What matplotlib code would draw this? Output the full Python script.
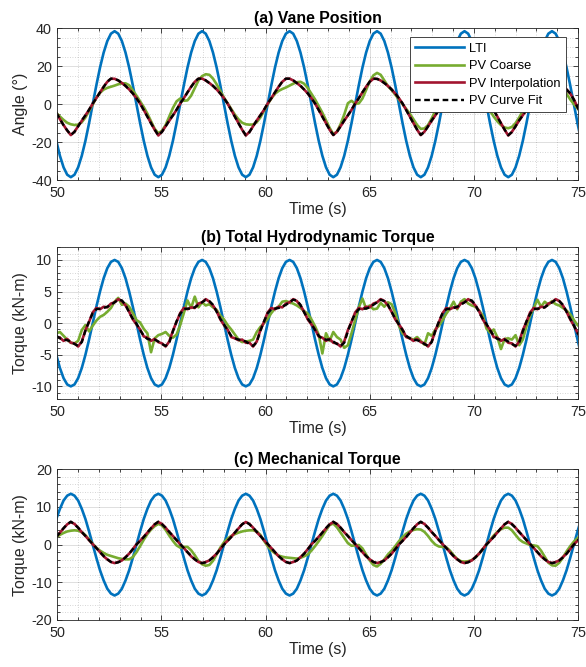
import numpy as np
import matplotlib.pyplot as plt
from matplotlib.ticker import MultipleLocator

plt.rcParams['font.family'] = ['Liberation Sans', 'DejaVu Sans']
plt.rcParams['axes.unicode_minus'] = False

# sample times (s), 0.175 s spacing
t = np.linspace(49.95, 75.15, 145)

# ---- (a) vane position, deg ----
lti_angle = [
    -19.3, -27.2, -33.3, -37.2, -38.5, -37.2, -33.3, -27.2, -19.3, -10.0, 0.0, 10.0, 19.3, 27.2, 33.3, 37.2, 38.5, 37.2, 33.3, 27.2, 19.3, 10.0, 0.0, -10.0,
    -19.3, -27.2, -33.3, -37.2, -38.5, -37.2, -33.3, -27.2, -19.3, -10.0, 0.0, 10.0, 19.3, 27.2, 33.3, 37.2, 38.5, 37.2, 33.3, 27.2, 19.3, 10.0, 0.0, -10.0,
    -19.3, -27.2, -33.3, -37.2, -38.5, -37.2, -33.3, -27.2, -19.3, -10.0, 0.0, 10.0, 19.3, 27.2, 33.3, 37.2, 38.5, 37.2, 33.3, 27.2, 19.3, 10.0, 0.0, -10.0,
    -19.3, -27.2, -33.3, -37.2, -38.5, -37.2, -33.3, -27.2, -19.3, -10.0, 0.0, 10.0, 19.3, 27.2, 33.3, 37.2, 38.5, 37.2, 33.3, 27.2, 19.3, 10.0, 0.0, -10.0,
    -19.3, -27.2, -33.3, -37.2, -38.5, -37.2, -33.3, -27.2, -19.3, -10.0, 0.0, 10.0, 19.3, 27.2, 33.3, 37.2, 38.5, 37.2, 33.3, 27.2, 19.3, 10.0, 0.0, -10.0,
    -19.3, -27.2, -33.3, -37.2, -38.5, -37.2, -33.3, -27.2, -19.3, -10.0, 0.0, 10.0, 19.3, 27.2, 33.3, 37.2, 38.5, 37.2, 33.3, 27.2, 19.3, 10.0, 0.0, -10.0,
    -19.3]
coarse_angle = [
    -4.6, -6.5, -8.3, -9.8, -10.6, -11.0, -10.8, -9.5, -7.0, -3.6, -0.2, 3.4, 6.0, 7.7, 8.6, 9.2, 9.8, 10.5, 11.0, 11.0, 10.0, 7.3, 4.5, 1.5,
    -1.5, -5.0, -9.0, -13.0, -15.3, -14.0, -11.0, -6.5, -2.0, 1.5, 3.0, 1.8, 2.0, 4.5, 8.5, 12.5, 14.8, 15.8, 15.5, 13.5, 10.5, 7.0, 3.5, 0.5,
    -2.5, -5.5, -8.0, -9.8, -10.6, -10.8, -10.7, -9.5, -7.0, -3.5, 0.0, 3.0, 5.5, 7.0, 8.0, 8.8, 9.8, 10.8, 11.6, 11.8, 10.8, 8.5, 5.5, 2.5,
    -1.0, -4.5, -8.5, -12.5, -15.8, -14.5, -10.5, -5.5, 0.5, 1.8, 0.2, 0.4, 3.0, 7.5, 12.0, 15.2, 16.5, 15.5, 12.5, 9.5, 7.5, 5.0, 2.5, 0.0,
    -2.5, -5.0, -8.0, -11.0, -13.0, -12.8, -11.0, -7.5, -3.5, 0.0, 3.0, 5.5, 7.5, 9.0, 10.0, 10.8, 11.0, 11.0, 10.0, 8.0, 5.5, 2.5, -0.5, -3.5,
    -6.5, -9.0, -11.0, -12.3, -12.7, -12.0, -10.0, -7.0, -3.5, -0.5, 1.5, 2.0, 3.0, 6.0, 9.5, 12.0, 13.5, 13.8, 11.5, 8.5, 5.5, 2.5, 0.0, -2.2,
    -4.5]
interp_angle = [
    -4.6, -7.9, -11.0, -13.9, -16.3, -14.5, -11.6, -8.6, -5.8, -3.0, 0.3, 3.2, 6.2, 9.2, 11.8, 13.4, 13.4, 12.5, 11.2, 9.6, 7.8, 5.6, 3.2, 0.3,
    -3.0, -6.5, -10.0, -13.5, -16.5, -14.5, -11.6, -8.6, -5.8, -3.0, 0.3, 3.2, 6.2, 9.2, 11.8, 13.4, 13.5, 12.5, 11.2, 9.6, 7.8, 5.6, 3.2, 0.3,
    -3.0, -6.5, -10.0, -13.5, -16.5, -14.6, -11.6, -8.6, -5.8, -3.0, 0.3, 3.2, 6.2, 9.2, 11.8, 13.4, 13.5, 12.5, 11.2, 9.6, 7.8, 5.6, 3.2, 0.3,
    -3.0, -6.5, -10.0, -13.5, -16.3, -14.5, -11.6, -8.6, -5.8, -3.0, 0.3, 3.2, 6.2, 9.2, 11.8, 13.4, 13.4, 12.5, 11.2, 9.6, 7.8, 5.6, 3.2, 0.3,
    -3.0, -6.5, -10.0, -13.5, -16.3, -14.5, -11.6, -8.6, -5.8, -3.0, 0.3, 3.2, 6.2, 9.2, 11.8, 13.4, 13.4, 12.5, 11.2, 9.6, 7.8, 5.6, 3.2, 0.3,
    -3.0, -6.5, -10.0, -13.5, -16.5, -14.6, -11.6, -8.6, -5.8, -3.0, 0.3, 3.2, 6.2, 9.2, 11.8, 13.4, 13.4, 12.5, 11.2, 9.6, 7.8, 5.6, 2.5, -1.5,
    -4.8]
fit_angle = [
    -4.5, -7.8, -11.1, -13.8, -16.2, -14.6, -11.7, -8.5, -5.9, -2.9, 0.4, 3.1, 6.3, 9.1, 11.9, 13.5, 13.3, 12.6, 11.1, 9.7, 7.7, 5.7, 3.1, 0.4,
    -3.1, -6.6, -10.1, -13.4, -16.4, -14.6, -11.7, -8.5, -5.9, -2.9, 0.4, 3.1, 6.3, 9.1, 11.9, 13.5, 13.4, 12.6, 11.1, 9.7, 7.7, 5.7, 3.1, 0.4,
    -3.1, -6.6, -10.1, -13.4, -16.4, -14.7, -11.7, -8.5, -5.9, -2.9, 0.4, 3.1, 6.3, 9.1, 11.9, 13.5, 13.4, 12.6, 11.1, 9.7, 7.7, 5.7, 3.1, 0.4,
    -3.1, -6.6, -10.1, -13.4, -16.2, -14.6, -11.7, -8.5, -5.9, -2.9, 0.4, 3.1, 6.3, 9.1, 11.9, 13.5, 13.3, 12.6, 11.1, 9.7, 7.7, 5.7, 3.1, 0.4,
    -3.1, -6.6, -10.1, -13.4, -16.2, -14.6, -11.7, -8.5, -5.9, -2.9, 0.4, 3.1, 6.3, 9.1, 11.9, 13.5, 13.3, 12.6, 11.1, 9.7, 7.7, 5.7, 3.1, 0.4,
    -3.1, -6.6, -10.1, -13.4, -16.4, -14.7, -11.7, -8.5, -5.9, -2.9, 0.4, 3.1, 6.3, 9.1, 11.9, 13.5, 13.3, 12.6, 11.1, 9.7, 7.7, 5.7, 2.4, -1.6,
    -4.9]

# ---- (b) total hydrodynamic torque, kN-m ----
lti_hydro = [
    -5.0, -7.1, -8.7, -9.7, -10.0, -9.7, -8.7, -7.1, -5.0, -2.6, 0.0, 2.6, 5.0, 7.1, 8.7, 9.7, 10.0, 9.7, 8.7, 7.1, 5.0, 2.6, 0.0, -2.6,
    -5.0, -7.1, -8.7, -9.7, -10.0, -9.7, -8.7, -7.1, -5.0, -2.6, 0.0, 2.6, 5.0, 7.1, 8.7, 9.7, 10.0, 9.7, 8.7, 7.1, 5.0, 2.6, 0.0, -2.6,
    -5.0, -7.1, -8.7, -9.7, -10.0, -9.7, -8.7, -7.1, -5.0, -2.6, 0.0, 2.6, 5.0, 7.1, 8.7, 9.7, 10.0, 9.7, 8.7, 7.1, 5.0, 2.6, 0.0, -2.6,
    -5.0, -7.1, -8.7, -9.7, -10.0, -9.7, -8.7, -7.1, -5.0, -2.6, 0.0, 2.6, 5.0, 7.1, 8.7, 9.7, 10.0, 9.7, 8.7, 7.1, 5.0, 2.6, 0.0, -2.6,
    -5.0, -7.1, -8.7, -9.7, -10.0, -9.7, -8.7, -7.1, -5.0, -2.6, 0.0, 2.6, 5.0, 7.1, 8.7, 9.7, 10.0, 9.7, 8.7, 7.1, 5.0, 2.6, 0.0, -2.6,
    -5.0, -7.1, -8.7, -9.7, -10.0, -9.7, -8.7, -7.1, -5.0, -2.6, 0.0, 2.6, 5.0, 7.1, 8.7, 9.7, 10.0, 9.7, 8.7, 7.1, 5.0, 2.6, 0.0, -2.6,
    -5.0]
coarse_hydro = [
    -1.6, -1.4, -2.0, -2.6, -3.1, -3.2, -2.8, -1.1, -0.3, -1.3, -0.4, 0.4, 1.0, 1.3, 1.8, 2.4, 3.4, 4.0, 2.9, 3.1, 2.6, 1.6, 0.5, 0.1,
    -0.9, -1.6, -4.6, -2.4, -1.9, -1.7, -1.4, -2.0, -2.3, -1.8, -0.3, 1.6, 3.6, 2.4, 4.2, 2.5, 3.3, 2.8, 3.0, 2.5, 2.1, 1.2, 0.6, -0.3,
    -1.0, -1.8, -2.6, -3.0, -2.9, -2.8, -2.6, -1.4, -0.6, 0.0, 0.7, 1.6, 2.3, 2.6, 3.4, 3.5, 3.3, 3.1, 2.8, 2.4, 1.9, 1.5, 0.6, -0.5,
    -1.8, -4.8, -1.6, -2.8, -1.4, -2.2, -2.6, -3.9, -3.5, -1.6, 0.5, 2.5, 3.9, 2.3, 2.8, 2.2, 2.3, 3.2, 2.6, 3.3, 3.0, 1.6, -0.4, -1.6,
    -2.1, -2.4, -2.6, -2.2, -2.8, -3.4, -1.6, -2.0, -1.0, -0.4, 0.5, 1.5, 2.3, 3.4, 2.2, 3.4, 3.8, 3.1, 2.8, 2.6, 2.0, 1.2, -0.8, -1.5,
    -1.0, -2.2, -4.1, -2.5, -2.4, -2.6, -1.9, -3.5, -2.6, -0.5, 1.2, 2.4, 3.7, 2.6, 3.4, 2.9, 3.5, 3.0, 2.8, 2.4, 2.0, 1.4, 0.5, -0.3,
    -0.8]
interp_hydro = [
    -2.2, -2.3, -2.8, -2.5, -3.1, -3.2, -3.7, -2.9, -1.1, 0.2, 1.7, 2.4, 2.2, 2.6, 2.5, 3.1, 3.3, 3.8, 3.5, 2.8, 1.8, 0.6, -0.2, -1.0,
    -2.1, -2.3, -2.8, -2.5, -3.0, -3.2, -3.7, -2.9, -1.2, 0.2, 1.6, 2.4, 2.2, 2.5, 2.4, 3.1, 3.3, 3.8, 3.4, 2.8, 1.9, 0.6, -0.3, -1.0,
    -2.2, -2.4, -2.7, -2.6, -3.1, -3.1, -3.7, -2.9, -1.1, 0.2, 1.7, 2.4, 2.2, 2.6, 2.5, 3.1, 3.3, 3.8, 3.5, 2.8, 1.8, 0.6, -0.2, -1.0,
    -2.1, -2.3, -2.8, -2.5, -3.1, -3.2, -3.7, -2.9, -1.1, 0.2, 1.7, 2.4, 2.2, 2.6, 2.5, 3.1, 3.3, 3.8, 3.5, 2.8, 1.8, 0.6, -0.2, -1.0,
    -2.2, -2.4, -2.8, -2.5, -3.0, -3.2, -3.7, -2.9, -1.2, 0.2, 1.6, 2.4, 2.2, 2.5, 2.4, 3.1, 3.3, 3.8, 3.4, 2.8, 1.9, 0.6, -0.3, -1.0,
    -2.2, -2.3, -2.8, -2.5, -3.1, -3.2, -3.7, -2.9, -1.1, 0.2, 1.7, 2.4, 2.2, 2.6, 2.5, 3.1, 3.3, 3.8, 3.5, 2.8, 1.8, 0.6, -0.4, -1.5,
    -2.5]
fit_hydro = [
    -2.0, -2.4, -2.6, -2.7, -2.9, -3.3, -3.6, -3.0, -1.2, 0.3, 1.6, 2.2, 2.3, 2.4, 2.6, 2.9, 3.3, 3.7, 3.6, 2.9, 1.7, 0.7, -0.1, -1.1,
    -2.0, -2.5, -2.6, -2.6, -2.9, -3.3, -3.6, -3.1, -1.3, 0.3, 1.5, 2.2, 2.3, 2.3, 2.5, 2.9, 3.3, 3.7, 3.5, 2.9, 1.8, 0.7, -0.2, -1.1,
    -2.0, -2.4, -2.6, -2.7, -2.9, -3.3, -3.6, -3.0, -1.2, 0.3, 1.6, 2.2, 2.3, 2.4, 2.6, 2.9, 3.3, 3.7, 3.6, 2.9, 1.7, 0.7, -0.1, -1.1,
    -2.0, -2.5, -2.6, -2.6, -2.9, -3.3, -3.6, -3.1, -1.3, 0.3, 1.5, 2.2, 2.3, 2.3, 2.5, 2.9, 3.3, 3.7, 3.5, 2.9, 1.8, 0.7, -0.2, -1.1,
    -2.0, -2.4, -2.6, -2.7, -2.9, -3.3, -3.6, -3.0, -1.2, 0.3, 1.6, 2.2, 2.3, 2.4, 2.6, 2.9, 3.3, 3.7, 3.6, 2.9, 1.7, 0.7, -0.1, -1.1,
    -2.0, -2.5, -2.6, -2.6, -2.9, -3.3, -3.6, -3.1, -1.3, 0.3, 1.5, 2.2, 2.3, 2.3, 2.5, 2.9, 3.3, 3.7, 3.5, 2.9, 1.8, 0.7, -0.4, -1.5,
    -2.4]

# ---- (c) mechanical torque, kN-m ----
lti_mech = [
    6.8, 9.5, 11.7, 13.0, 13.5, 13.0, 11.7, 9.5, 6.8, 3.5, 0.0, -3.5, -6.8, -9.5, -11.7, -13.0, -13.5, -13.0, -11.7, -9.5, -6.8, -3.5, 0.0, 3.5,
    6.8, 9.5, 11.7, 13.0, 13.5, 13.0, 11.7, 9.5, 6.8, 3.5, 0.0, -3.5, -6.8, -9.5, -11.7, -13.0, -13.5, -13.0, -11.7, -9.5, -6.8, -3.5, 0.0, 3.5,
    6.8, 9.5, 11.7, 13.0, 13.5, 13.0, 11.7, 9.5, 6.8, 3.5, 0.0, -3.5, -6.8, -9.5, -11.7, -13.0, -13.5, -13.0, -11.7, -9.5, -6.8, -3.5, 0.0, 3.5,
    6.8, 9.5, 11.7, 13.0, 13.5, 13.0, 11.7, 9.5, 6.8, 3.5, 0.0, -3.5, -6.8, -9.5, -11.7, -13.0, -13.5, -13.0, -11.7, -9.5, -6.8, -3.5, 0.0, 3.5,
    6.8, 9.5, 11.7, 13.0, 13.5, 13.0, 11.7, 9.5, 6.8, 3.5, 0.0, -3.5, -6.8, -9.5, -11.7, -13.0, -13.5, -13.0, -11.7, -9.5, -6.8, -3.5, 0.0, 3.5,
    6.8, 9.5, 11.7, 13.0, 13.5, 13.0, 11.7, 9.5, 6.8, 3.5, 0.0, -3.5, -6.8, -9.5, -11.7, -13.0, -13.5, -13.0, -11.7, -9.5, -6.8, -3.5, 0.0, 3.5,
    6.8]
coarse_mech = [
    2.0, 2.6, 3.1, 3.5, 3.7, 3.8, 3.7, 3.3, 2.5, 1.4, 0.2, -0.8, -1.6, -2.2, -2.7, -3.0, -3.3, -3.6, -3.8, -3.9, -3.9, -3.3, -2.0, -0.4,
    1.3, 2.8, 4.0, 4.9, 5.5, 5.1, 3.9, 2.4, 1.0, -0.2, -0.8, -0.6, -0.6, -1.5, -2.8, -4.3, -5.2, -5.6, -5.4, -4.3, -2.6, -0.8, 0.6, 1.6,
    2.3, 2.8, 3.2, 3.5, 3.7, 3.8, 3.8, 3.5, 2.6, 1.0, -0.4, -1.5, -2.3, -2.9, -3.2, -3.4, -3.5, -3.6, -3.7, -3.5, -3.1, -2.6, -1.6, -0.4,
    0.9, 2.3, 3.8, 5.2, 5.6, 4.6, 3.2, 1.8, 0.4, -0.3, -0.2, -0.1, -1.0, -2.6, -4.2, -5.4, -5.8, -5.1, -3.9, -2.6, -1.6, -0.4, 0.9, 2.0,
    2.9, 3.5, 3.9, 4.1, 4.0, 3.4, 2.3, 1.0, 0.0, -0.5, -0.6, -0.7, -1.6, -2.8, -3.8, -4.4, -4.5, -4.4, -4.1, -3.4, -2.4, -1.2, 0.0, 1.2,
    2.4, 3.4, 4.1, 4.5, 4.5, 3.8, 2.6, 1.4, 0.7, 0.3, -0.1, -0.2, -0.4, -1.6, -3.2, -4.8, -5.5, -5.6, -4.8, -3.4, -1.8, -0.4, 0.8, 1.7,
    2.6]
interp_mech = [
    2.1, 3.2, 4.3, 5.4, 6.0, 5.5, 4.5, 3.3, 2.3, 1.2, 0.1, -0.9, -2.0, -3.1, -3.9, -4.6, -4.9, -4.6, -4.2, -3.3, -2.4, -1.2, 0.1, 1.0,
    2.1, 3.2, 4.3, 5.4, 6.0, 5.5, 4.5, 3.3, 2.3, 1.2, 0.1, -0.9, -2.0, -3.1, -3.9, -4.6, -4.9, -4.6, -4.2, -3.3, -2.4, -1.2, 0.1, 1.0,
    2.1, 3.2, 4.3, 5.4, 6.0, 5.5, 4.5, 3.3, 2.3, 1.2, 0.1, -0.9, -2.0, -3.1, -3.9, -4.6, -4.9, -4.6, -4.2, -3.3, -2.4, -1.2, 0.1, 1.0,
    2.1, 3.2, 4.3, 5.4, 6.0, 5.5, 4.5, 3.3, 2.3, 1.2, 0.1, -0.9, -2.0, -3.1, -3.9, -4.6, -4.9, -4.6, -4.2, -3.3, -2.4, -1.2, 0.1, 1.0,
    2.1, 3.2, 4.3, 5.4, 6.0, 5.5, 4.5, 3.3, 2.3, 1.2, 0.1, -0.9, -2.0, -3.1, -3.9, -4.6, -4.9, -4.6, -4.2, -3.3, -2.4, -1.2, 0.1, 1.0,
    2.1, 3.2, 4.3, 5.4, 6.0, 5.5, 4.5, 3.3, 2.3, 1.2, 0.1, -0.9, -2.0, -3.1, -3.9, -4.6, -4.9, -4.6, -4.2, -3.3, -2.4, -1.2, 0.1, 1.0,
    2.1]
fit_mech = [
    2.0, 3.2, 4.4, 5.4, 6.1, 5.4, 4.5, 3.4, 2.3, 1.2, 0.2, -0.9, -2.0, -3.0, -3.9, -4.6, -4.9, -4.7, -4.2, -3.4, -2.4, -1.2, 0.0, 1.0,
    2.0, 3.2, 4.4, 5.4, 6.1, 5.4, 4.5, 3.4, 2.3, 1.2, 0.2, -0.9, -2.0, -3.0, -3.9, -4.6, -4.9, -4.7, -4.2, -3.4, -2.4, -1.2, 0.0, 1.0,
    2.0, 3.2, 4.4, 5.4, 6.1, 5.4, 4.5, 3.4, 2.3, 1.2, 0.2, -0.9, -2.0, -3.0, -3.9, -4.6, -4.9, -4.7, -4.2, -3.4, -2.4, -1.2, 0.0, 1.0,
    2.0, 3.2, 4.4, 5.4, 6.1, 5.4, 4.5, 3.4, 2.3, 1.2, 0.2, -0.9, -2.0, -3.0, -3.9, -4.6, -4.9, -4.7, -4.2, -3.4, -2.4, -1.2, 0.0, 1.0,
    2.0, 3.2, 4.4, 5.4, 6.1, 5.4, 4.5, 3.4, 2.3, 1.2, 0.2, -0.9, -2.0, -3.0, -3.9, -4.6, -4.9, -4.7, -4.2, -3.4, -2.4, -1.2, 0.0, 1.0,
    2.0, 3.2, 4.4, 5.4, 6.1, 5.4, 4.5, 3.4, 2.3, 1.2, 0.2, -0.9, -2.0, -3.0, -3.9, -4.6, -4.9, -4.7, -4.2, -3.4, -2.4, -1.2, 0.0, 1.0,
    2.0]

labels = ['LTI', 'PV Coarse', 'PV Interpolation', 'PV Curve Fit']
panels = [
    ('(a) Vane Position', 'Angle (°)', (-40, 40), 20, 5,
     [lti_angle, coarse_angle, interp_angle, fit_angle]),
    ('(b) Total Hydrodynamic Torque', 'Torque (kN-m)', (-12, 12), 5, 1,
     [lti_hydro, coarse_hydro, interp_hydro, fit_hydro]),
    ('(c) Mechanical Torque', 'Torque (kN-m)', (-20, 20), 10, 2,
     [lti_mech, coarse_mech, interp_mech, fit_mech]),
]

ink = '#262626'
fig = plt.figure(figsize=(5.86, 6.67), dpi=100)
boxes = [[0.0978, 0.7301, 0.8886, 0.2274],
         [0.0978, 0.4018, 0.8886, 0.2274],
         [0.0978, 0.0705, 0.8886, 0.2259]]

for box, (title, ylab, ylim, ymaj, ymin, series) in zip(boxes, panels):
    ax = fig.add_axes(box)
    lti, coarse, interp, fit = series
    ax.plot(t, lti, color='#0072BD', lw=1.9, label=labels[0])
    ax.plot(t, coarse, color='#77AC30', lw=1.9, label=labels[1])
    ax.plot(t, interp, color='#A2142F', lw=1.9, label=labels[2])
    ax.plot(t, fit, color='k', lw=1.7, ls='--', dashes=(2.4, 1.5), label=labels[3])

    ax.set_xlim(50, 75)
    ax.set_ylim(*ylim)
    ax.xaxis.set_major_locator(MultipleLocator(5))
    ax.xaxis.set_minor_locator(MultipleLocator(1))
    ax.yaxis.set_major_locator(MultipleLocator(ymaj))
    ax.yaxis.set_minor_locator(MultipleLocator(ymin))
    ax.set_axisbelow(True)
    ax.grid(True, which='major', color=ink, alpha=0.15, lw=0.7)
    ax.grid(True, which='minor', color=ink, alpha=0.25, lw=0.6, ls=(0, (1, 2)))
    ax.tick_params(which='both', direction='in', top=True, right=True,
                   colors=ink, labelsize=10.4, width=0.6)
    ax.tick_params(which='major', length=3.5, pad=4)
    ax.tick_params(which='minor', length=2)
    for sp in ax.spines.values():
        sp.set_color(ink)
        sp.set_linewidth(0.6)
    ax.set_title(title, fontsize=11.4, fontweight='bold', pad=4, color='k')
    ax.set_xlabel('Time (s)', fontsize=11.4, color=ink, labelpad=2)
    ax.set_ylabel(ylab, fontsize=11.4, color=ink, labelpad=2)

    if title.startswith('(a)'):
        leg = ax.legend(loc='upper right', bbox_to_anchor=(0.977, 0.94),
                        fontsize=9.3, handlelength=3.8, handletextpad=0.4,
                        labelspacing=0.42, borderpad=0.4, borderaxespad=0,
                        fancybox=False, framealpha=1, edgecolor=ink)
        leg.get_frame().set_linewidth(0.6)

fig.savefig('out.png', dpi=100)
